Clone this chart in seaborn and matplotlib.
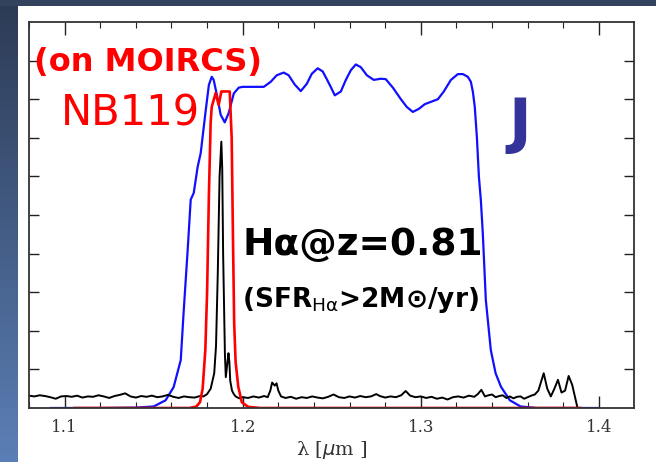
import numpy as np
import pandas as pd
import matplotlib
matplotlib.use("Agg")
import matplotlib.pyplot as plt
import seaborn as sns
from matplotlib.colors import LinearSegmentedColormap

# ---------------- data ----------------
j_wave = [1.092, 1.100, 1.120, 1.140, 1.150, 1.1567, 1.1612, 1.1652, 1.1669, 1.1691,
          1.1708, 1.1725, 1.1747, 1.1764, 1.1792, 1.181, 1.1826, 1.1837, 1.186, 1.1876,
          1.1899, 1.1921, 1.195, 1.1978, 1.200, 1.206, 1.2118, 1.2157, 1.2191, 1.2230,
          1.2258, 1.2292, 1.2326, 1.2360, 1.2388, 1.2421, 1.2449, 1.2472, 1.2494, 1.2517,
          1.2551, 1.2579, 1.2607, 1.2635, 1.2663, 1.2697, 1.2736, 1.2775, 1.2803, 1.2843,
          1.2888, 1.2921, 1.2955, 1.2989, 1.3022, 1.3056, 1.3096, 1.3129, 1.3169, 1.3208,
          1.3236, 1.3264, 1.3281, 1.3292, 1.3303, 1.3315, 1.3326, 1.3337, 1.3348, 1.3365,
          1.3393, 1.342, 1.345, 1.350, 1.356, 1.365, 1.400]
j_trans = [0.0, 0.0, 0.0, 0.001, 0.004, 0.020, 0.054, 0.124, 0.254, 0.41,
           0.54, 0.557, 0.625, 0.66, 0.77, 0.837, 0.858, 0.85, 0.80, 0.76,
           0.74, 0.764, 0.815, 0.83, 0.832, 0.832, 0.832, 0.845, 0.862, 0.869,
           0.862, 0.838, 0.821, 0.84, 0.866, 0.880, 0.872, 0.852, 0.832, 0.81,
           0.82, 0.85, 0.875, 0.89, 0.883, 0.862, 0.85, 0.853, 0.852, 0.83,
           0.80, 0.78, 0.767, 0.775, 0.787, 0.793, 0.80, 0.82, 0.85, 0.865,
           0.865, 0.858, 0.845, 0.82, 0.78, 0.70, 0.60, 0.539, 0.453, 0.28,
           0.15, 0.09, 0.055, 0.02, 0.004, 0.0, 0.0]

nb_wave = [1.105, 1.170, 1.174, 1.176, 1.1775, 1.179, 1.180, 1.181, 1.182, 1.1826,
           1.1848, 1.1865, 1.188, 1.1927, 1.1938, 1.1945, 1.1952, 1.196, 1.1975, 1.1995,
           1.203, 1.210, 1.390]
nb_trans = [0.0, 0.0, 0.004, 0.015, 0.05, 0.15, 0.30, 0.55, 0.74, 0.78,
            0.816, 0.785, 0.82, 0.82, 0.70, 0.45, 0.22, 0.12, 0.055, 0.015,
            0.003, 0.0, 0.0]

spec_wave = [1.080, 1.083, 1.086, 1.089, 1.092, 1.095, 1.098, 1.101, 1.104, 1.107,
             1.110, 1.113, 1.116, 1.119, 1.122, 1.125, 1.128, 1.131, 1.134, 1.137,
             1.140, 1.143, 1.146, 1.149, 1.152, 1.155, 1.158, 1.161, 1.164, 1.167,
             1.170, 1.173, 1.176, 1.178, 1.180, 1.182, 1.184, 1.185, 1.186, 1.187,
             1.188, 1.1885, 1.189, 1.190, 1.1905, 1.191, 1.192, 1.1925, 1.193, 1.194,
             1.195, 1.196, 1.198, 1.200, 1.203, 1.206, 1.209, 1.212, 1.214, 1.2155,
             1.2165, 1.218, 1.219, 1.220, 1.2215, 1.224, 1.227, 1.230, 1.233, 1.236,
             1.239, 1.242, 1.245, 1.248, 1.251, 1.254, 1.257, 1.260, 1.263, 1.266,
             1.269, 1.272, 1.275, 1.277, 1.280, 1.283, 1.286, 1.289, 1.2915, 1.294,
             1.297, 1.300, 1.303, 1.306, 1.309, 1.312, 1.315, 1.318, 1.321, 1.324,
             1.327, 1.330, 1.332, 1.334, 1.336, 1.338, 1.340, 1.342, 1.344, 1.346,
             1.348, 1.350, 1.352, 1.354, 1.356, 1.358, 1.360, 1.362, 1.364, 1.366,
             1.367, 1.369, 1.371, 1.373, 1.375, 1.377, 1.379, 1.381, 1.383, 1.385,
             1.387, 1.388]
spec_flux = [0.032, 0.030, 0.033, 0.031, 0.028, 0.024, 0.030, 0.031, 0.029, 0.032,
             0.027, 0.030, 0.029, 0.033, 0.030, 0.026, 0.031, 0.034, 0.038, 0.030,
             0.027, 0.031, 0.029, 0.032, 0.028, 0.030, 0.034, 0.029, 0.026, 0.030,
             0.028, 0.027, 0.031, 0.030, 0.036, 0.050, 0.090, 0.160, 0.350, 0.600,
             0.690, 0.620, 0.400, 0.140, 0.080, 0.100, 0.142, 0.120, 0.070, 0.045,
             0.036, 0.030, 0.025, 0.028, 0.026, 0.030, 0.027, 0.031, 0.028, 0.045,
             0.066, 0.058, 0.064, 0.045, 0.030, 0.026, 0.029, 0.024, 0.028, 0.026,
             0.030, 0.027, 0.025, 0.029, 0.035, 0.028, 0.026, 0.030, 0.027, 0.031,
             0.028, 0.030, 0.036, 0.031, 0.027, 0.030, 0.028, 0.033, 0.044, 0.032,
             0.028, 0.030, 0.026, 0.029, 0.024, 0.027, 0.022, 0.028, 0.030, 0.027,
             0.032, 0.029, 0.036, 0.047, 0.030, 0.033, 0.035, 0.028, 0.031, 0.033,
             0.026, 0.030, 0.025, 0.029, 0.030, 0.024, 0.028, 0.032, 0.035, 0.045,
             0.060, 0.090, 0.050, 0.030, 0.050, 0.073, 0.040, 0.045, 0.083, 0.060,
             0.020, 0.0]

xticks_major = [1.1, 1.2, 1.3, 1.4]
xtick_labels = ["1.1", "1.2", "1.3", "1.4"]

# ---------------- figure ----------------
sns.set_style("ticks")
plt.rcParams['font.family'] = ['DejaVu Sans']

fig = plt.figure(figsize=(6.56, 4.62), dpi=100)
fig.patch.set_facecolor("white")

# slide decoration: left gradient strip and top strip
bg = fig.add_axes([0, 0, 18/656, 1])
grad = np.linspace(0, 1, 256).reshape(-1, 1)
cmap = LinearSegmentedColormap.from_list("slide", ["#5b7fb6", "#2c3a54"])
bg.imshow(grad, aspect="auto", cmap=cmap, origin="lower", extent=[0, 1, 0, 1])
bg.set_axis_off()
top = fig.add_axes([0, 1 - 6/462, 1, 6/462])
top.set_facecolor("#33425d")
top.set_xticks([]); top.set_yticks([])
for s in top.spines.values():
    s.set_visible(False)

ax = fig.add_axes([29/656, 1 - 408/462, 605/656, 386/462])

df_j = pd.DataFrame({"wave": j_wave, "trans": j_trans})
df_nb = pd.DataFrame({"wave": nb_wave, "trans": nb_trans})
df_s = pd.DataFrame({"wave": spec_wave, "flux": spec_flux})

sns.lineplot(data=df_j, x="wave", y="trans", ax=ax, color="#1010ff", lw=1.6, estimator=None)
sns.lineplot(data=df_s, x="wave", y="flux", ax=ax, color="black", lw=1.4, estimator=None)
sns.lineplot(data=df_nb, x="wave", y="trans", ax=ax, color="#ff0000", lw=1.9, estimator=None)

ax.set_xlim(1.0803, 1.4197)
ax.set_ylim(0, 1)
ax.set_xticks(xticks_major)
ax.set_xticklabels(xtick_labels, family="DejaVu Serif", fontsize=12)
ax.set_xticks(np.arange(1.08, 1.42, 0.02), minor=True)
ax.set_yticks(np.arange(0.1, 1.0, 0.1))
ax.set_yticklabels([])
ax.tick_params(axis="x", which="major", direction="in", length=9, width=1.0,
               top=True, bottom=True, colors="#222222", labelcolor="#333333", pad=8)
ax.tick_params(axis="x", which="minor", direction="in", length=4.5, width=0.8,
               top=True, bottom=True, colors="#222222")
ax.tick_params(axis="y", which="major", direction="in", length=7, width=1.0,
               left=True, right=True, colors="#222222")
for s in ax.spines.values():
    s.set_linewidth(1.3)
    s.set_color("#333333")
ax.set_xlabel(r"λ [$\mu$m ]", family="DejaVu Serif", fontsize=14, color="#333333", labelpad=2)
ax.set_ylabel("")

# annotations
fig.text(148/656, 1 - 62/462, "(on MOIRCS)", color="red", fontsize=23, fontweight="bold",
         ha="center", va="center")
fig.text(130/656, 1 - 114/462, "NB119", color="red", fontsize=30,
         ha="center", va="center")
fig.text(520/656, 1 - 125/462, "J", color="#333399", fontsize=44, fontweight="bold",
         ha="center", va="center")
fig.text(242/656, 1 - 245/462, "Hα@z=0.81", color="black", fontsize=27, fontweight="bold",
         ha="left", va="center")
fig.text(242/656, 1 - 300/462, r"(SFR$_{\rm H\alpha}$>2M⊙/yr)", color="black", fontsize=19,
         fontweight="bold", ha="left", va="center")

fig.savefig("out.png", dpi=100)
